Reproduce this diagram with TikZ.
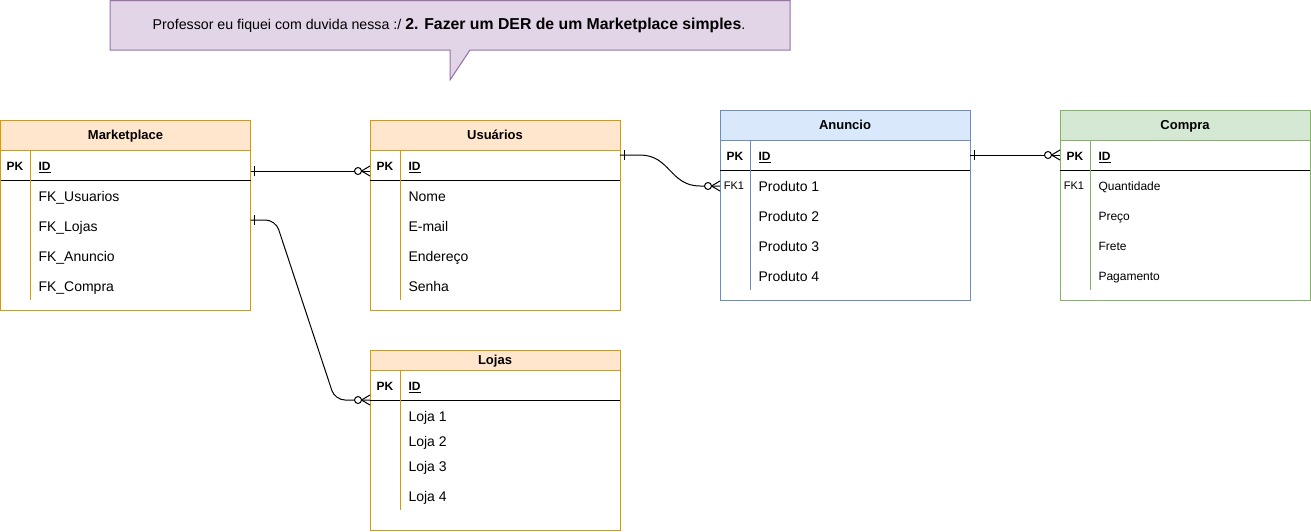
\documentclass[tikz,border=0pt]{standalone}
\usepackage{fontspec}
\setmainfont{Liberation Sans}
\usetikzlibrary{arrows.meta, positioning, calc, decorations.markings}
\usepackage{xcolor}
\definecolor{peach}{HTML}{FFE6CC}
\definecolor{peachline}{HTML}{D79B00}
\definecolor{sky}{HTML}{DAE8FC}
\definecolor{skyline}{HTML}{6C8EBF}
\definecolor{mint}{HTML}{D5E8D4}
\definecolor{mintline}{HTML}{82B366}
\definecolor{lilac}{HTML}{E1D5E7}
\definecolor{lilacline}{HTML}{9673A6}
\def\tabw{250pt}

\begin{document}
\begin{tikzpicture}[x=1pt, y=-1pt, line width=1pt]
    \tikzstyle{tbody}=[rectangle, fill=white, minimum width=\tabw, inner sep=0pt, outer sep=0pt]
    \tikzstyle{head}=[rectangle, minimum width=\tabw, inner sep=0pt, outer sep=0pt, font=\fontsize{13}{15}\selectfont\bfseries, text height=9.4pt, text depth=0pt]
    \tikzstyle{idrow}=[rectangle, minimum width=\tabw, minimum height=30pt, inner sep=0pt, outer sep=0pt]
    \tikzstyle{keytext}=[inner sep=0pt, font=\fontsize{12}{14}\selectfont\bfseries, text height=8.6pt, text depth=0pt]
    \tikzstyle{idtext}=[keytext, anchor=west]
    \tikzstyle{fktext}=[inner sep=0pt, font=\fontsize{11}{13}\selectfont, text height=7.9pt, text depth=0pt]
    \tikzstyle{field}=[anchor=west, inner sep=0pt, font=\fontsize{14}{16}\selectfont, text height=10pt, text depth=0pt]
    \tikzstyle{smallfield}=[field, font=\fontsize{12}{14}\selectfont, text height=8.6pt]
    \tikzstyle{relation}=[draw=black, line width=1pt, postaction={decorate},
        decoration={markings,
            mark=at position 4pt with {\draw[line width=1pt] (0pt,-5pt) -- (0pt,5pt);},
            mark=at position -12pt with {\draw[line width=1pt, fill=white] (0pt,0pt) circle (3.5pt);},
            mark=at position -8.5pt with {\draw[line width=1pt] (0pt,0pt) -- (8.5pt,5pt) (0pt,0pt) -- (8.5pt,-5pt);}}]

    \useasboundingbox (0,0) rectangle (1311,531);

    % callout
    \draw[fill=lilac, draw=lilacline] (110,0.5) -- (790,0.5) -- (790,50) -- (470,50) -- (450,80) -- (450,50) -- (110,50) -- cycle;
    \node[inner sep=0pt] (note) at (449,25) {\fontsize{14.2}{16}\selectfont Professor eu fiquei com duvida nessa :/ {\bfseries\fontsize{15.8}{18}\selectfont 2. Fazer um DER de um Marketplace simples}.};

    % Marketplace
    \node[tbody, draw=peachline, minimum height=190pt] (mp) at (125.5,215) {};
    \node[head, fill=peach, draw=peachline, minimum height=30pt] (mp-head) at (125.5,135) {Marketplace};
    \node[idrow] (mp-id) at (125.5,165) {};
    \draw (mp-id.south west) -- (mp-id.south east);
    \draw[peachline] (30,150) -- (30,300);
    \node[keytext] (mp-pk) at (15,166) {PK};
    \node[idtext] (mp-key) at (38,166) {\underline{ID}};
    \foreach \f [count=\i] in {FK\_Usuarios, FK\_Lojas, FK\_Anuncio, FK\_Compra}
        \node[field] (mp-\i) at (38,166+30*\i) {\f};

    % Usuarios
    \node[tbody, draw=peachline, minimum height=190pt] (us) at (495,215) {};
    \node[head, fill=peach, draw=peachline, minimum height=30pt] (us-head) at (495,135) {Usuários};
    \node[idrow] (us-id) at (495,165) {};
    \draw (us-id.south west) -- (us-id.south east);
    \draw[peachline] (400,150) -- (400,300);
    \node[keytext] (us-pk) at (385,166) {PK};
    \node[idtext] (us-key) at (408,166) {\underline{ID}};
    \foreach \f [count=\i] in {Nome, E-mail, Endereço, Senha}
        \node[field] (us-\i) at (408,166+30*\i) {\f};

    % Lojas
    \node[tbody, draw=peachline, minimum height=180pt] (lo) at (495,440) {};
    \node[head, fill=peach, draw=peachline, minimum height=20pt] (lo-head) at (495,360) {Lojas};
    \node[idrow] (lo-id) at (495,385) {};
    \draw (lo-id.south west) -- (lo-id.south east);
    \draw[peachline] (400,370) -- (400,510);
    \node[keytext] (lo-pk) at (385,386) {PK};
    \node[idtext] (lo-key) at (408,386) {\underline{ID}};
    \foreach \f/\y [count=\i] in {Loja 1/416, Loja 2/441, Loja 3/466, Loja 4/496}
        \node[field] (lo-\i) at (408,\y) {\f};

    % Anuncio
    \node[tbody, draw=skyline, minimum height=190pt] (an) at (845,205) {};
    \node[head, fill=sky, draw=skyline, minimum height=30pt] (an-head) at (845,125) {Anuncio};
    \node[idrow] (an-id) at (845,155) {};
    \draw (an-id.south west) -- (an-id.south east);
    \draw[skyline] (750,140) -- (750,290);
    \node[keytext] (an-pk) at (735,156) {PK};
    \node[idtext] (an-key) at (758,156) {\underline{ID}};
    \node[fktext] (an-fk) at (734,186) {FK1};
    \foreach \f [count=\i] in {Produto 1, Produto 2, Produto 3, Produto 4}
        \node[field] (an-\i) at (758,156+30*\i) {\f};

    % Compra
    \node[tbody, draw=mintline, minimum height=190pt] (co) at (1185,205) {};
    \node[head, fill=mint, draw=mintline, minimum height=30pt] (co-head) at (1185,125) {Compra};
    \node[idrow] (co-id) at (1185,155) {};
    \draw (co-id.south west) -- (co-id.south east);
    \draw[mintline] (1090,140) -- (1090,290);
    \node[keytext] (co-pk) at (1075,156) {PK};
    \node[idtext] (co-key) at (1098,156) {\underline{ID}};
    \node[fktext] (co-fk) at (1074,186) {FK1};
    \foreach \f [count=\i] in {Quantidade, Preço, Frete, Pagamento}
        \node[smallfield] (co-\i) at (1098,156+30*\i) {\f};

    % relations
    \draw[relation] ($(mp-id.east)+(0,6)$) -- ($(us-id.west)+(0,6)$);
    \draw[relation, rounded corners=10pt] ($(mp-2 -| mp.east)+(0,-6)$) -- ++(25,0) -- ($(lo-id.south west)+(-35,0)$) -- (lo-id.south west);
    \draw[relation] ($(us-id.east)+(0,-10)$) -- ++(20,0) .. controls +(30,0) and +(-30,0) .. ($(an-1 -| an.west)+(-20,0)$) -- (an-1 -| an.west);
    \draw[relation] (an-id.east) -- (co-id.west);
\end{tikzpicture}
\end{document}
